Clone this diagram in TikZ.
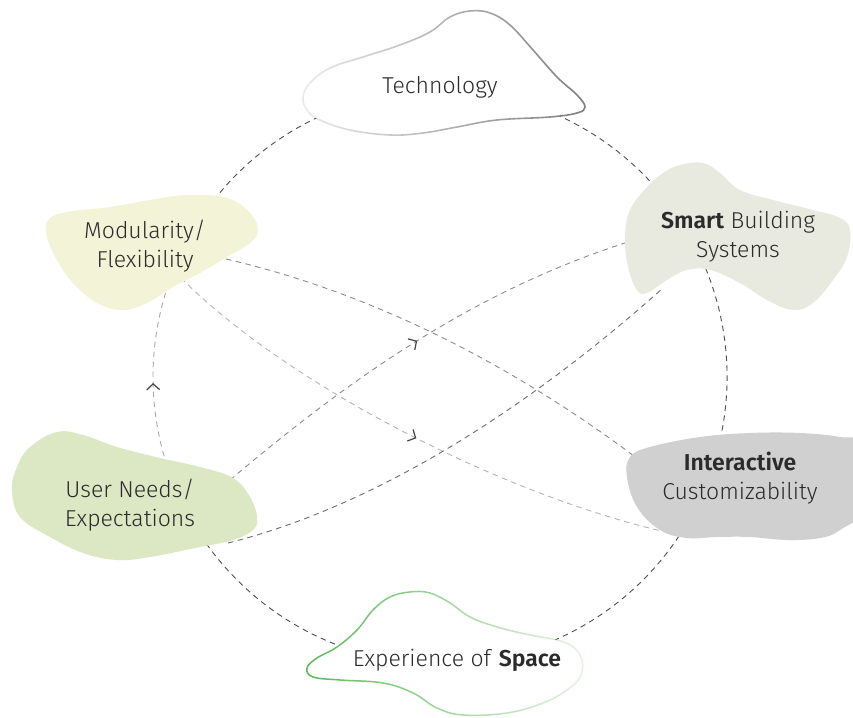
\documentclass[tikz,border=0pt]{standalone}
\usepackage{fontspec}
\setmainfont{Fira Sans}[UprightFont=* Light, BoldFont=* SemiBold]
\usetikzlibrary{arrows.meta,decorations.markings,fadings}

\definecolor{ink}{HTML}{2B2B2B}
\definecolor{ringdark}{HTML}{4F4F4F}
\definecolor{ringlight}{HTML}{A8A8A8}
\definecolor{linkmid}{HTML}{8C8C8C}
\definecolor{linklight}{HTML}{B4B4B4}
\definecolor{linkdark}{HTML}{6E6E6E}
\definecolor{tipgray}{HTML}{444444}
\definecolor{modfill}{HTML}{F3F3D8}
\definecolor{smartfill}{HTML}{E8EADF}
\definecolor{userfill}{HTML}{DCE7C4}
\definecolor{interfill}{HTML}{D0D0D0}
\definecolor{techline}{HTML}{7E7E7E}
\definecolor{spaceline}{HTML}{5DB85A}

\tikzfading[name=fade to east, left color=transparent!0, right color=transparent!85]
\tikzfading[name=fade to west, left color=transparent!85, right color=transparent!0]

\tikzset{
  ring/.style={line width=0.9pt, dash pattern=on 5.5pt off 4.5pt},
  link/.style={line width=0.9pt, dash pattern=on 5.5pt off 4.5pt},
  blob/.style={smooth cycle, tension=0.65},
  caption/.style={font=\fontsize{23}{29}\selectfont, text=ink, anchor=base, inner sep=0pt},
  midarrow/.style={postaction={decorate}, decoration={markings,
      mark=at position #1 with {\arrow[tipgray]{Straight Barb[length=6pt,width=13pt,line width=1.2pt]}}}}
}

\begin{document}
\begin{tikzpicture}[x=1pt,y=-1pt]
  \useasboundingbox (0,0) rectangle (853,717);
  \fill[white] (0,0) rectangle (853,717);
  \clip (0,0) rectangle (853,717);

  % ring centre and connector end points
  \coordinate (hub) at (440,377);
  \coordinate (modu-e) at (226,259);
  \coordinate (modu-s) at (181,278);
  \coordinate (user-ne) at (230,480);
  \coordinate (user-se) at (228,543);
  \coordinate (smart-w) at (628,242);
  \coordinate (smart-sw) at (663,288);
  \coordinate (inter-w) at (634,456);
  \coordinate (inter-sw) at (684,536);

  % dashed ring
  \draw[ring, draw=ringdark] (hub) ++(200:287) arc[start angle=200, end angle=520, radius=287];
  \draw[ring, draw=ringlight, midarrow=0.47] (hub) ++(160:287) arc[start angle=160, end angle=200, radius=287];

  % cross connectors
  \draw[link, draw=linkmid] (modu-e) .. controls (373,293) and (512,365) .. (inter-w);
  \draw[link, draw=linklight, midarrow=0.5] (modu-s) .. controls (293,390) and (520,503) .. (inter-sw);
  \draw[link, draw=linkmid, midarrow=0.5] (user-ne) .. controls (353,376) and (475,291) .. (smart-w);
  \draw[link, draw=linkdark] (user-se) .. controls (400,500) and (560,380) .. (smart-sw);

  % Technology
  \fill[white] plot[blob] coordinates {(303,97) (310,83) (330,68) (363,57) (400,45) (430,32) (450,17)
    (470,11) (490,13) (510,25) (533,50) (557,77) (577,95) (585,107) (577,113) (550,117) (497,120)
    (457,127) (423,133) (390,135) (350,130) (320,120) (307,110)};
  \draw[techline, line width=1.6pt, path fading=fade to west] plot[blob] coordinates {(303,97) (310,83) (330,68) (363,57) (400,45) (430,32) (450,17)
    (470,11) (490,13) (510,25) (533,50) (557,77) (577,95) (585,107) (577,113) (550,117) (497,120)
    (457,127) (423,133) (390,135) (350,130) (320,120) (307,110)};

  % Modularity / Flexibility
  \fill[modfill] plot[blob] coordinates {(48,220) (67,212) (110,207) (150,200) (187,195) (227,198)
    (250,213) (258,230) (250,243) (227,257) (200,273) (173,287) (147,303) (123,310) (97,303)
    (73,283) (57,260) (47,237)};

  % Smart Building Systems
  \fill[smartfill] plot[blob] coordinates {(663,173) (680,165) (703,163) (720,173) (740,190) (773,200)
    (813,210) (840,218) (850,230) (847,257) (833,280) (813,303) (793,310) (767,300) (740,283)
    (710,270) (687,270) (667,280) (647,293) (637,290) (628,267) (625,237) (630,210) (647,187)};

  % User Needs / Expectations
  \fill[userfill] plot[blob] coordinates {(30,447) (57,432) (83,435) (117,447) (160,458) (200,467)
    (233,478) (250,497) (257,517) (253,530) (233,540) (200,547) (150,557) (117,560) (83,553)
    (50,537) (20,517) (12,490) (17,467)};

  % Interactive Customizability
  \fill[interfill] plot[blob] coordinates {(630,457) (650,447) (700,437) (750,433) (800,433) (840,437)
    (868,445) (868,505) (840,530) (820,538) (787,540) (750,537) (717,537) (687,538) (660,530)
    (637,507) (627,477)};

  % Experience of Space
  \fill[white] plot[blob] coordinates {(337,647) (357,630) (373,610) (390,597) (410,592) (430,593)
    (450,603) (470,617) (497,627) (530,635) (557,640) (573,647) (582,660) (580,677) (567,690)
    (543,703) (507,713) (463,715) (437,708) (413,693) (383,683) (340,680) (313,677) (307,668) (317,658)};
  \draw[spaceline, line width=1.5pt, path fading=fade to east] plot[blob] coordinates {(337,647) (357,630) (373,610) (390,597) (410,592) (430,593)
    (450,603) (470,617) (497,627) (530,635) (557,640) (573,647) (582,660) (580,677) (567,690)
    (543,703) (507,713) (463,715) (437,708) (413,693) (383,683) (340,680) (313,677) (307,668) (317,658)};

  % captions
  \node[caption] (tech) at (440,93) {Technology};
  \node[caption] (modu) at (145,238) {\begin{tabular}[t]{@{}c@{}}Modularity/\\Flexibility\end{tabular}};
  \node[caption] (smart) at (738,228) {\begin{tabular}[t]{@{}c@{}}\textbf{Smart} Building\\Systems\end{tabular}};
  \node[caption] (user) at (130,497) {\begin{tabular}[t]{@{}c@{}}User Needs/\\Expectations\end{tabular}};
  \node[caption] (inter) at (740,470) {\begin{tabular}[t]{@{}c@{}}\textbf{Interactive}\\Customizability\end{tabular}};
  \node[caption] (space) at (457,666) {Experience of \textbf{Space}};
\end{tikzpicture}
\end{document}
